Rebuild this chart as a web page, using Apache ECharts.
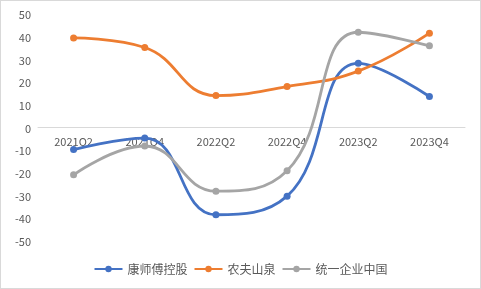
<!DOCTYPE html>
<html><head><meta charset="utf-8">
<script src="https://cdn.jsdelivr.net/npm/echarts@6/dist/echarts.min.js"></script>
<style>html,body{margin:0;padding:0;background:#fff}#c{width:481px;height:289px;box-sizing:border-box;border:1px solid #d9d9d9}</style>
</head><body><div id="c"></div>
<script>
const categories = ['2021Q2','2021Q4','2022Q2','2022Q4','2023Q2','2023Q4'];
const kangshifu = [-9.3, -4.2, -38.0, -29.8, 28.7, 14.1];
const nongfu = [39.9, 35.7, 14.5, 18.5, 25.3, 42.0];
const tongyi = [-20.4, -7.7, -27.6, -18.6, 42.4, 36.4];
const yTicks = { min: -50, max: 50, interval: 10 };

const chart = echarts.init(document.getElementById('c'), null, {renderer:'canvas'});
const font = '"Noto Sans CJK SC", "Noto Sans", sans-serif';
function s(name, data, color){
  return {name, type:'line', data, smooth:0.45, symbol:'circle', symbolSize:7, z:3,
    lineStyle:{width:2.8, color}, itemStyle:{color}, emphasis:{disabled:true}};
}
const gridTop = 14, gridBottom = 46, H = 289;
const plotH = H - gridTop - gridBottom;
chart.setOption({
  animation:false,
  grid:{left:37, right:15, top:gridTop, bottom:gridBottom},
  legend:{bottom:8, left:'center', itemWidth:28, itemHeight:8, itemGap:6,
    textStyle:{color:'#595959', fontSize:12, fontFamily:font}},
  xAxis:{type:'category', data:categories, boundaryGap:true, z:1,
    offset: -plotH * (0 - yTicks.min) / (yTicks.max - yTicks.min),
    axisLine:{onZero:false, lineStyle:{color:'#d9d9d9', width:1}}, axisTick:{show:false},
    axisLabel:{color:'#595959', fontSize:11, fontFamily:font, margin:9}},
  yAxis:{type:'value', min:yTicks.min, max:yTicks.max, interval:yTicks.interval,
    splitLine:{show:false}, axisLine:{show:false}, axisTick:{show:false},
    axisLabel:{color:'#595959', fontSize:11, fontFamily:font, margin:7}},
  series:[s('康师傅控股', kangshifu, '#4472C4'), s('农夫山泉', nongfu, '#ED7D31'), s('统一企业中国', tongyi, '#A5A5A5')]
});
</script></body></html>
